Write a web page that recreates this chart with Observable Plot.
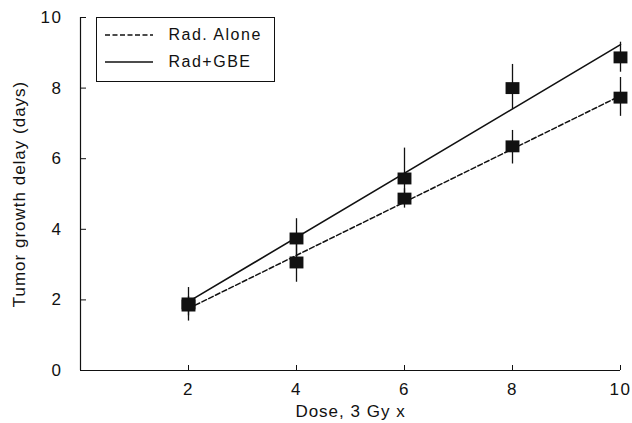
<!DOCTYPE html>
<html><head><meta charset="utf-8">
<script src="https://cdn.jsdelivr.net/npm/d3@7"></script>
<script src="https://cdn.jsdelivr.net/npm/@observablehq/plot@0.6"></script>
<style>
body{margin:0;background:#fff;font-family:"Liberation Sans",Arial,sans-serif;}
#wrap{position:relative;width:632px;height:423px;}
#legend{position:absolute;left:96px;top:17px;width:179px;height:65px;border:1.5px solid #111;background:#fff;box-sizing:border-box;font-size:16px;letter-spacing:1.5px;color:#111;}
.row{position:absolute;left:7.5px;height:20px;display:flex;align-items:center;}
.row svg{display:block;}
.row span{margin-left:16px;line-height:20px;}
svg text{letter-spacing:1.5px;}
svg g[aria-label="x-axis label"] text, svg g[aria-label="y-axis label"] text{letter-spacing:1px;}
</style></head><body>
<div id="wrap"><div id="chart"></div><div id="legend"></div></div>
<script>
const doses = [2, 4, 6, 8, 10];
const radAlone = [1.84, 3.06, 4.87, 6.35, 7.73];
const radAloneLo = [1.55, 2.5, 4.6, 5.85, 7.2];
const radAloneHi = [2.1, 3.6, 5.15, 6.8, 8.3];
const radGBE = [1.9, 3.74, 5.44, 8.0, 8.87];
const radGBELo = [1.4, 3.2, 4.9, 7.4, 8.45];
const radGBEHi = [2.35, 4.3, 6.3, 8.67, 9.3];
const xTicks = [2, 4, 6, 8, 10];
const yTicks = [0, 2, 4, 6, 8, 10];
const seriesNames = ["Rad. Alone", "Rad+GBE"];

const rows = [];
doses.forEach((d, i) => {
  rows.push({series: seriesNames[0], dose: d, y: radAlone[i], lo: radAloneLo[i], hi: radAloneHi[i]});
  rows.push({series: seriesNames[1], dose: d, y: radGBE[i], lo: radGBELo[i], hi: radGBEHi[i]});
});
const ra = rows.filter(r => r.series === seriesNames[0]);
const gb = rows.filter(r => r.series === seriesNames[1]);

// slightly wide filled square marker, as in the scanned figure
const wideSquare = {
  draw(ctx, size) {
    const s = Math.sqrt(size);
    const w = s * 0.56, h = s * 0.48;
    ctx.moveTo(-w, -h); ctx.lineTo(w, -h); ctx.lineTo(w, h); ctx.lineTo(-w, h); ctx.closePath();
  }
};

const chart = Plot.plot({
  width: 632, height: 423,
  marginLeft: 80, marginRight: 12, marginTop: 17, marginBottom: 53,
  style: {fontFamily: "'Liberation Sans', Arial, sans-serif", fontSize: "17px", color: "#111"},
  x: {domain: [0, 10]},
  y: {domain: [0, 10]},
  marks: [
    Plot.ruleX([0], {stroke: "#111", strokeWidth: 1.2}),
    Plot.ruleY([0], {stroke: "#111", strokeWidth: 1.2}),
    Plot.axisX(xTicks, {tickSize: 0, tickPadding: 12, label: "Dose, 3 Gy x", labelArrow: "none", labelAnchor: "center", labelOffset: 46, fontSize: 17}),
    Plot.axisX(xTicks, {tickSize: -5, text: null, label: null, stroke: "#111"}),
    Plot.axisY(yTicks, {tickSize: 0, tickPadding: 18, label: "Tumor growth delay (days)", labelAnchor: "center", labelArrow: "none", labelOffset: 68, fontSize: 17}),
    Plot.axisY(yTicks, {tickSize: -6, text: null, label: null, stroke: "#111"}),
    Plot.ruleX(rows, {x: "dose", y1: "lo", y2: "hi", stroke: "#111", strokeWidth: 1.3}),
    Plot.linearRegressionY(ra, {x: "dose", y: "y", ci: 0, stroke: "#111", strokeWidth: 1.5, strokeDasharray: "5,2.5"}),
    Plot.linearRegressionY(gb, {x: "dose", y: "y", ci: 0, stroke: "#111", strokeWidth: 1.6}),
    Plot.dot(rows, {x: "dose", y: "y", symbol: wideSquare, r: 7, fill: "#111", stroke: "none"})
  ]
});
document.getElementById("chart").appendChild(chart);

const leg = document.getElementById("legend");
const styles = ["5,2.5", null];
seriesNames.forEach((name, i) => {
  const row = document.createElement("div");
  row.className = "row";
  row.style.top = (i === 0 ? 6.5 : 33.5) + "px";
  row.innerHTML = `<svg width="48" height="20"><line x1="0" x2="48" y1="10" y2="10" stroke="#111" stroke-width="1.5" ${styles[i] ? `stroke-dasharray="${styles[i]}"` : ""}/></svg><span>${name}</span>`;
  leg.appendChild(row);
});
</script></body></html>
